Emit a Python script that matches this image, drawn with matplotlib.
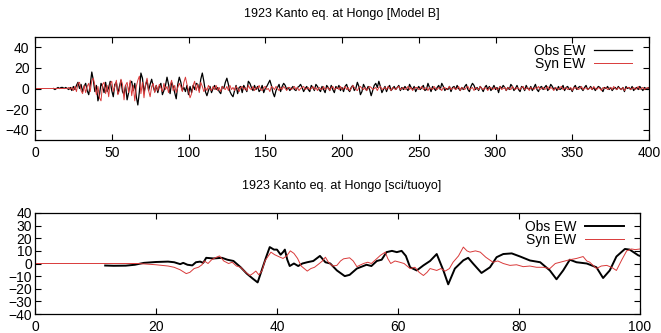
import numpy as np
import matplotlib
matplotlib.use("Agg")
import matplotlib.pyplot as plt

plt.rcParams['font.family'] = ['Liberation Sans', 'DejaVu Sans']

# top panel: 1 s samples, obs starts at t=12, syn at t=0
obs_top = [
    0, -1, 0, 1, 0, 1, 1, 0, 1, 0, -1, 1, -2, 2, -1, 3, 6, 0, 4, -3,
    2, 5, -2, -6, 4, 16, 8, -3, 3, -12, -6, 5, 2, -4, 6, -3, 1, 7, -2, -8,
    4, 6, -5, 2, 8, -3, -6, 3, -11, -4, 5, 7, -2, 5, -8, -16, -3, 15, 10, -4,
    3, 8, -2, 4, 9, 2, -3, 3, -4, 2, 5, -6, -2, 3, 11, 4, -5, 6, 2, -4,
    -10, 4, 11, 6, -2, 1, -3, 3, -6, 2, -4, 3, -1, 5, 4, -2, 9, 15, 7, -3,
    -7, -2, 2, -4, 0, 3, -1, 1, -3, -5, 2, 0, 6, 10, 4, -3, -6, -8, -2, 3,
    -5, 1, 2, -4, 3, 0, -3, 7, 5, 1, -2, 3, -1, 2, -3, -1, 3, -4, 0, 2,
    5, 8, 3, -4, -8, -2, 1, 4, -3, 2, 5, 3, -1, 1, -2, 0, 2, -1, -2, 1,
    2, 4, 1, -3, 0, 2, -1, -3, 3, 1, -2, 4, 2, -1, -3, 2, -1, -4, 3, 1,
    -2, 3, -1, -4, 2, 0, 3, -2, 1, -3, 2, 4, -1, -3, 1, 3, -2, 0, 6, 2,
    -6, -3, 4, 1, -2, 2, -1, -7, -2, 3, 5, 1, 7, 2, -4, -1, 2, -3, 1, 3,
    -2, 0, 2, -1, 1, 3, -2, 1, -1, 2, 0, -2, 4, 1, -1, 2, -3, 0, 2, -1,
    1, 3, -2, -1, 5, 1, -3, 2, 0, -2, 1, 3, -1, 5, 2, -2, 0, -1, 2, -3,
    1, 2, -1, 3, 0, -2, 1, -1, 2, 4, -1, -3, 2, 5, 3, -1, 1, -2, 2, 0,
    -3, 1, 3, -1, 2, -2, 0, 3, -1, 1, -4, 2, 0, 3, 1, -2, 1, -1, 4, 2,
    -2, 0, 3, -1, -3, 2, 1, -2, 3, 0, -1, 2, -2, 1, 4, -1, -3, 1, 2, -1,
    1, 3, -2, 0, 4, 2, -1, 1, -2, 2, -1, 0, 3, -2, 1, 2, -1, 0, -3, 1,
    3, -1, 1, 2, 0, -2, 1, 3, -1, 0, 2, -1, 1, -2, 0, 2, 1, -1, -3, 1,
    0, 2, -1, 1, -2, 0, 1, -1, 2, 0, -1, 1, -3, 2, 0, 1, -1, 2, -2, 0,
    1, -1, 2, 0, -2, 1, 0, -1, 1, 0,
]
syn_top = [
    0, 0, 0, 0, 0, 0, 0, 0, 0, 0, 0, 0, 0, 0, 0, 0, 0, 0, 0, 0,
    0, 0, 1, -1, 1, -2, 2, -3, 5, 6, -2, -5, 3, -4, 2, 5, -3, 8, 10, 3,
    -6, 2, -9, -12, 4, 6, -5, 3, -8, 5, 7, -3, 2, 8, -6, -2, 9, 4, -11, 3,
    6, -4, 8, -7, 3, -12, 2, 8, 12, -5, 6, -9, 4, 10, -2, -8, 2, 5, -4, 3,
    -2, 4, 1, -3, 5, -1, 2, -4, 3, 8, -2, 3, -4, 1, 5, 2, -3, 6, 11, 4,
    -2, -9, -5, 3, 7, -2, 4, -4, 6, 2, -3, 1, -2, 3, 0, -2, 2, -1, 3, -2,
    1, -3, 2, 0, -1, 2, -2, 3, -1, 1, -2, 2, 0, -3, 1, 2, -1, 1, -2, 3,
    0, -1, 2, -2, 1, 0, 3, -1, -2, 1, 2, -1, 0, -3, 2, 1, -1, 2, 0, -2,
    1, -1, 2, 0, -2, 1, 1, -1, 0, 2, -1, 1, -2, 0, 1, 2, -1, 0, 1, -1,
    0, 2, -1, 1, -2, 1, 0, -1, 2, -1, 0, 1, -2, 1, 2, -1, 0, 1, -1, 2,
    -1, 0, 2, -1, 1, -2, 0, 3, 1, -1, -2, 1, 2, 0, -1, 1, -2, 0, 2, 1,
    -1, 0, 1, -2, 1, 2, -1, 0, 1, -1, 2, 0, -2, 1, 0, -1, 1, 2, -1, 0,
    1, -1, 0, 2, -1, 1, -2, 0, 1, 1, -1, 0, 2, -1, 0, 1, -2, 1, 0, -1,
    2, 0, -1, 1, 0, -2, 1, 1, -1, 0, 2, -1, 0, 1, -1, 0, 2, -2, 1, 0,
    -1, 1, 2, -1, 0, 1, -2, 1, 0, -1, 2, 0, -1, 1, 0, -2, 1, 1, -1, 0,
    1, -1, 0, 2, -1, 0, 1, -2, 1, 0, -1, 2, 0, -1, 1, 0, -1, 1, 2, -1,
    0, 1, -2, 1, 0, -1, 1, 0, 2, -1, 0, 1, -1, 0, 2, -1, 1, 0, -2, 1,
    0, -1, 1, 2, -1, 0, 1, -1, 0, 1, -2, 1, 0, 1, -1, 0, 2, -1, 0, 1,
    -1, 0, 1, -1, 2, 0, -1, 1, 0, -2, 1, 0, 1, -1, 0, 1, -1, 2, 0, -1,
    1, 0, -1, 1, -2, 0, 1, 1, -1, 0, 1, -1, 0, 2, -1, 0, 1, -1, 0, 1, 0,
]
t_obs_top = np.arange(12, 12 + len(obs_top))
t_syn_top = np.arange(0, len(syn_top))

# bottom panel: picked points
t_obs_bot = [11.6, 13, 15, 16.5, 18, 20, 22, 23, 24, 24.5, 25.2, 26, 26.6, 27.3, 27.8,
             28.3, 29.5, 30.9, 31.8, 32.8, 34, 35, 36, 36.8, 37.5, 38.2, 38.8, 39.5, 40,
             40.6, 41, 41.3, 41.7, 42.1, 42.8, 43.5, 44.2, 45, 46, 47.1, 48, 48.8, 49.9,
             51.2, 52, 53.2, 54.8, 55.6, 56.5, 57.3, 58.1, 59, 59.8, 60.6, 61.3, 62, 63.1,
             64.2, 65.3, 66.4, 67.5, 68.3, 69.4, 70.8, 71.6, 72.4, 73.8, 75.2, 76.3, 77.4,
             78.8, 80.2, 81.8, 83.5, 85.1, 86.2, 87.3, 88.4, 89.5, 91.2, 92.8, 93.9, 95,
             96.1, 97.5, 98.3, 99.7, 100]
obs_bot = [-1.6, -1.8, -1.7, -1, 0.5, 1.2, 1.5, 1, -0.5, 0.5, -1, -1.5, 1, 1.5, 0.5,
           4.5, 4, 4.5, 3, 2, -3, -8, -12, -15, -5, 5, 13, 11, 11, 7, 9, 11, 3, -2, 0,
           -2, 0, 1, 2, 6, 1, 0, -5.5, -10, -9, -4, -1, -2, 2, 3, 9, 10, 9, 10, 6, -3,
           -5.5, -1.5, 2, 7.5, -5.5, -16.5, -4, 2.5, 4.5, 0, -7.5, -3, 5, 7.5, 8, 5.5,
           2.4, 1, -5.5, -12.5, -5.5, 3, 1, 0, -3, -11.5, -5.5, 5.5, 11.5, 11, 6.5, 6]
t_syn_bot = [0, 17, 20, 22, 23, 24, 25, 25.6, 26.3, 27, 27.6, 28, 28.6, 29.2, 30, 30.5,
             31.2, 32, 32.6, 33.3, 34, 34.6, 35.5, 36, 36.5, 37, 37.5, 38, 39, 39.6, 40.5,
             41, 41.6, 42.2, 42.8, 43.4, 44, 45, 45.6, 46.2, 47, 47.5, 48, 48.5, 49.2,
             49.9, 50.5, 51, 52, 52.6, 53.2, 54.3, 55, 55.6, 56.3, 57.1, 57.9, 58.3, 58.8,
             59.5, 60.3, 61, 62, 62.8, 63.5, 64.2, 64.8, 65.3, 66.4, 67.1, 67.8, 68.5,
             69.1, 70, 70.8, 71.4, 71.9, 72.8, 73.6, 74.5, 75.7, 76.5, 77.4, 78.5, 79.6,
             80.7, 81.8, 82.9, 84, 85.1, 86, 86.8, 87.6, 88.4, 89.5, 90.6, 91.2, 91.7,
             92.8, 93.6, 94.5, 95.3, 96.1, 97, 97.8, 98.6, 99.2, 100]
syn_bot = [0, 0, -1, -2, -3, -5, -8, -7, -4, -3, -1, 2, 0, 3, 5, 6, 2, 0, 1, -2, -3,
           -6, -9.5, -8, -6, -9, -6, 2, 9, 7, 5, 4, 6, 10, 8, 4, -2, -6, -4, -3, 0, 2,
           5, 1, -2, -1.5, 2, 3.7, 4.5, 2, -2.5, 0, 1, 0, 3, 6.5, 9, 4, 0, 2, 1, 0, -4,
           -3, -7, -9.5, -7, -4, -5.5, -4, -6, -4, 1, 6, 13, 10, 9, 10, 9, 5, 1, 2, 0,
           -1.5, -1, -2.5, -2, -3, -3, -4, 0, 1, 2, 3, 4, 5.5, 2, 1, -4, -2, -1.5, -3,
           -5.5, 3, 10, 11.5, 11, 11.5]

W, H = 661, 333
fig = plt.figure(figsize=(W / 100, H / 100), dpi=100)
fig.set_facecolor('white')

red = '#d93a3a'


def style(ax):
    ax.tick_params(direction='in', top=True, right=True, length=4, width=0.8,
                   labelsize=10, pad=4)
    for s in ax.spines.values():
        s.set_linewidth(0.9)


ax1 = fig.add_axes([35 / W, 1 - 140 / H, 614 / W, 103 / H])
ax1.plot(t_obs_top, obs_top, color='black', lw=0.9, label='Obs EW')
ax1.plot(t_syn_top, syn_top, color=red, lw=0.7, label='Syn EW')
ax1.set_xlim(0, 400)
ax1.set_ylim(-50, 50)
ax1.set_xticks(range(0, 401, 50))
ax1.set_yticks(range(-40, 41, 20))
style(ax1)
ax1.legend(loc='upper right', frameon=False, markerfirst=False, fontsize=10,
           handlelength=2.8, handletextpad=0.6, borderaxespad=0.0,
           labelspacing=-0.1, bbox_to_anchor=(0.982, 0.985))
fig.text(342 / W, 1 - 14 / H, '1923 Kanto eq. at Hongo [Model B]',
         ha='center', va='center', fontsize=9)

ax2 = fig.add_axes([35 / W, 1 - 314 / H, 605 / W, 101 / H])
ax2.plot(t_obs_bot, obs_bot, color='black', lw=1.4, label='Obs EW')
ax2.plot(t_syn_bot, syn_bot, color=red, lw=0.7, label='Syn EW')
ax2.set_xlim(0, 100)
ax2.set_ylim(-40, 40)
ax2.set_xticks(range(0, 101, 20))
ax2.set_yticks(range(-40, 41, 10))
style(ax2)
ax2.tick_params(axis='y', labelsize=10, pad=2)
ax2.legend(loc='upper right', frameon=False, markerfirst=False, fontsize=10,
           handlelength=2.8, handletextpad=0.6, borderaxespad=0.0,
           labelspacing=-0.1, bbox_to_anchor=(0.982, 0.985))
fig.text(342 / W, 1 - 186 / H, '1923 Kanto eq. at Hongo [sci/tuoyo]',
         ha='center', va='center', fontsize=9)

fig.savefig('out.png', dpi=100)
